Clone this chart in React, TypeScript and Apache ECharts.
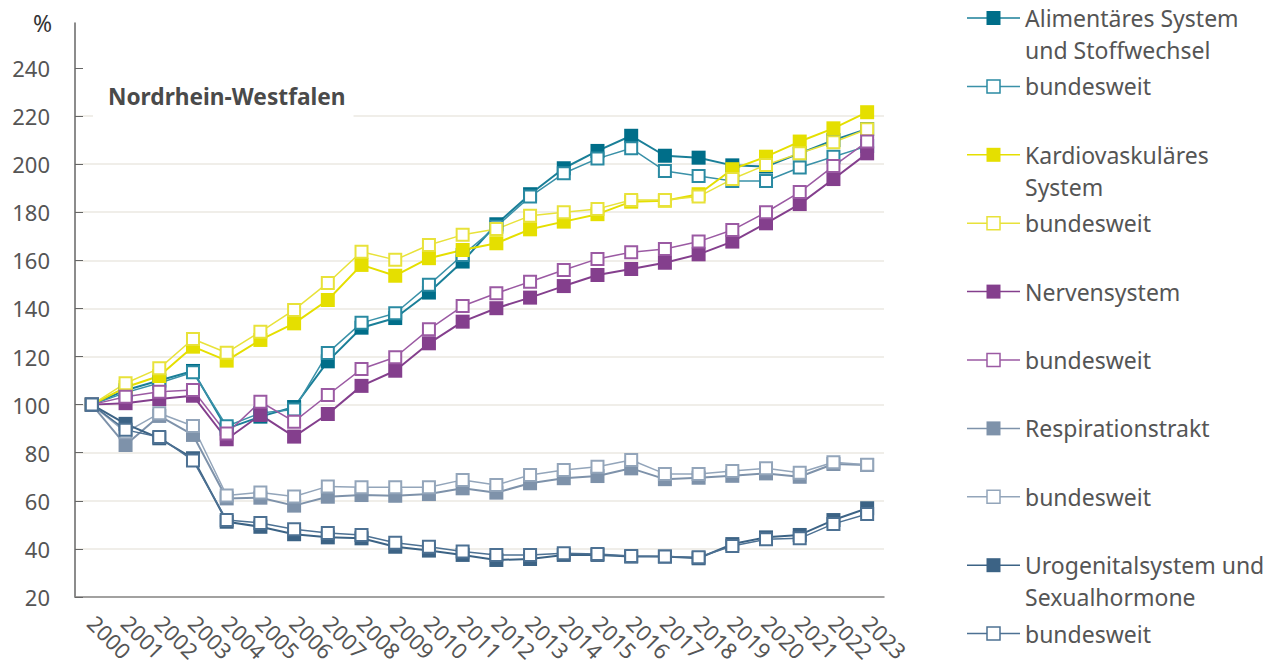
import React, { useEffect, useRef } from "react";
import * as echarts from "echarts";

const years = ["2000","2001","2002","2003","2004","2005","2006","2007","2008","2009","2010","2011","2012","2013","2014","2015","2016","2017","2018","2019","2020","2021","2022","2023"];
const yTicks = [20, 40, 60, 80, 100, 120, 140, 160, 180, 200, 220, 240];

const alimNRW = [100, 106, 110, 114, 90, 95, 99, 118, 132, 136, 146.6, 159.5, 175, 187.5, 198.3, 205.5, 211.8, 203.5, 202.7, 199.5, 199, 204.5, 210, 214.6];
const alimBund = [100, 105, 109, 113.5, 91, 96.5, 98, 121.5, 134, 138, 149.8, 162.2, 174, 186.5, 196.2, 202.3, 206.6, 197.2, 195.1, 193, 193, 198.6, 203.1, 207.5];
const kardNRW = [100, 107.2, 111.9, 124.1, 118.3, 126.9, 133.8, 143.5, 158.1, 153.6, 160.9, 164.3, 167.1, 172.9, 176.1, 179.2, 184.4, 184.8, 187.5, 197.9, 203.1, 209.4, 214.9, 221.6];
const kardBund = [100, 108.9, 115.1, 127.3, 121.6, 130.3, 139.4, 150.6, 163.6, 160.2, 166.4, 170.6, 173, 178.5, 180, 181.4, 185.1, 185.1, 186.5, 193.8, 199.7, 204.5, 209.1, 214.5];
const nervNRW = [100, 100.6, 102.3, 103.7, 85.6, 95.7, 86.7, 96.1, 107.8, 114.1, 125.5, 134.5, 140.1, 144.5, 149.3, 153.9, 156.4, 159, 162.5, 167.8, 175.4, 183.4, 193.8, 204.5];
const nervBund = [100, 103.3, 105.4, 106.1, 88, 101.2, 92.9, 104, 114.8, 119.7, 131.3, 141, 146.3, 151.1, 156, 160.6, 163.4, 164.7, 167.8, 172.6, 180, 188.4, 199.2, 209.4];
const respNRW = [100, 83.2, 95.3, 87.4, 61, 61.3, 58, 61.7, 62.4, 62.1, 62.8, 65.2, 63.4, 67.3, 69.4, 70.3, 73.5, 69, 69.6, 70.4, 71.4, 70, 75.3, 74.9];
const respBund = [100, 88.5, 96.4, 91.1, 62.2, 63.5, 61.8, 66, 65.6, 65.6, 65.6, 68.7, 66.6, 70.7, 72.8, 74.2, 77, 71.2, 71.2, 72.4, 73.5, 71.7, 76, 75];
const uroNRW = [100, 92, 86, 77.7, 51.3, 49.2, 46.1, 44.8, 44.4, 40.9, 39.3, 37.5, 35.4, 35.8, 37.5, 37.5, 36.8, 36.8, 36.1, 42, 44.8, 45.8, 52, 56.9];
const uroBund = [100, 89.5, 86.5, 76.8, 52, 50.8, 48.2, 46.6, 45.8, 42.6, 40.9, 38.9, 37.5, 37.5, 38.2, 37.9, 37.1, 36.8, 36.5, 41.2, 44, 44.4, 50.4, 54.5];

const seriesDefs = [
  { id: "alim", label: "Alimentäres System\nund Stoffwechsel", data: alimNRW, color: "#006e89", line: "#1a7f98", hollow: false },
  { id: "alimB", label: "bundesweit", data: alimBund, color: "#2a8aa2", line: "#3a91a8", hollow: true },
  { id: "kard", label: "Kardiovaskuläres\nSystem", data: kardNRW, color: "#e5df00", line: "#e5df00", hollow: false },
  { id: "kardB", label: "bundesweit", data: kardBund, color: "#e8e23a", line: "#e8e23a", hollow: true },
  { id: "nerv", label: "Nervensystem", data: nervNRW, color: "#843f8d", line: "#843f8d", hollow: false },
  { id: "nervB", label: "bundesweit", data: nervBund, color: "#9b5aa3", line: "#9b5aa3", hollow: true },
  { id: "resp", label: "Respirationstrakt", data: respNRW, color: "#7e92aa", line: "#7e92aa", hollow: false },
  { id: "respB", label: "bundesweit", data: respBund, color: "#93a5ba", line: "#93a5ba", hollow: true },
  { id: "uro", label: "Urogenitalsystem und\nSexualhormone", data: uroNRW, color: "#3c6385", line: "#3c6385", hollow: false },
  { id: "uroB", label: "bundesweit", data: uroBund, color: "#4d7193", line: "#4d7193", hollow: true },
];

const FONT = "Noto Sans";

export default function App() {
  const ref = useRef<HTMLDivElement>(null);
  useEffect(() => {
    if (!ref.current) return;
    const chart = echarts.init(ref.current, undefined, { renderer: "svg" });

    const series = seriesDefs.map((s) => ({
      type: "line",
      name: s.id,
      data: s.data,
      symbol: "rect",
      symbolSize: s.hollow ? 12 : 14,
      lineStyle: { color: s.line, width: s.hollow ? 1.5 : 2 },
      itemStyle: s.hollow
        ? { color: "#fff", borderColor: s.color, borderWidth: 2 }
        : { color: s.color, borderWidth: 0 },
      emphasis: { disabled: true },
    }));

    const legendX = 967;
    const legendGraphics: any[] = [];
    seriesDefs.forEach((s, i) => {
      const cy = 18 + 68.4 * i;
      legendGraphics.push({
        type: "line",
        shape: { x1: legendX, y1: cy, x2: legendX + 53, y2: cy },
        style: { stroke: s.line, lineWidth: 1.5 },
      });
      legendGraphics.push(
        s.hollow
          ? {
              type: "rect",
              shape: { x: legendX + 20, y: cy - 6.5, width: 13, height: 13 },
              style: { fill: "#fff", stroke: s.color, lineWidth: 1.5 },
            }
          : {
              type: "rect",
              shape: { x: legendX + 19.5, y: cy - 7, width: 14, height: 14 },
              style: { fill: s.color },
            }
      );
      legendGraphics.push({
        type: "text",
        x: 1025,
        y: cy - 16,
        style: {
          text: s.label,
          font: `23px "${FONT}"`,
          fill: "#555",
          lineHeight: 32,
          verticalAlign: "top",
          align: "left",
        },
      });
    });

    chart.setOption({
      animation: false,
      title: {
        text: "Nordrhein-Westfalen",
        left: 93,
        top: 77,
        backgroundColor: "#fff",
        padding: [8, 8, 12, 15],
        textStyle: { fontFamily: FONT, fontWeight: "bold", fontSize: 22.7, color: "#4a4a4a" },
      },
      grid: { left: 75, right: 388, top: 23, bottom: 73, containLabel: false },
      xAxis: {
        type: "category",
        data: years,
        boundaryGap: true,
        axisLine: { lineStyle: { color: "#888", width: 1.5 } },
        axisTick: { alignWithLabel: true, length: 8, lineStyle: { color: "#666" } },
        axisLabel: { rotate: -45, interval: 0, fontSize: 22, color: "#555", fontFamily: FONT, margin: 22 },
      },
      yAxis: {
        type: "value",
        min: 20,
        max: 258.7,
        interval: 20,
        name: "%",
        nameLocation: "end",
        nameGap: 0,
        nameTextStyle: { fontFamily: FONT, fontSize: 23, color: "#333", align: "right", verticalAlign: "middle", padding: [0, 23, 0, 0] },
        axisLine: { show: true, lineStyle: { color: "#666", width: 1.5 } },
        axisTick: { show: true, inside: true, length: 8, customValues: yTicks, lineStyle: { color: "#666" } },
        axisLabel: { customValues: yTicks, fontSize: 22, color: "#555", fontFamily: FONT, margin: 25 },
        splitLine: { show: true, showMaxLine: false, lineStyle: { color: "#ebe9e2", width: 1.5 } },
      },
      graphic: legendGraphics,
      series,
    });
    return () => chart.dispose();
  }, []);
  return <div ref={ref} style={{ width: 1272, height: 670, margin: -8 }} />;
}
